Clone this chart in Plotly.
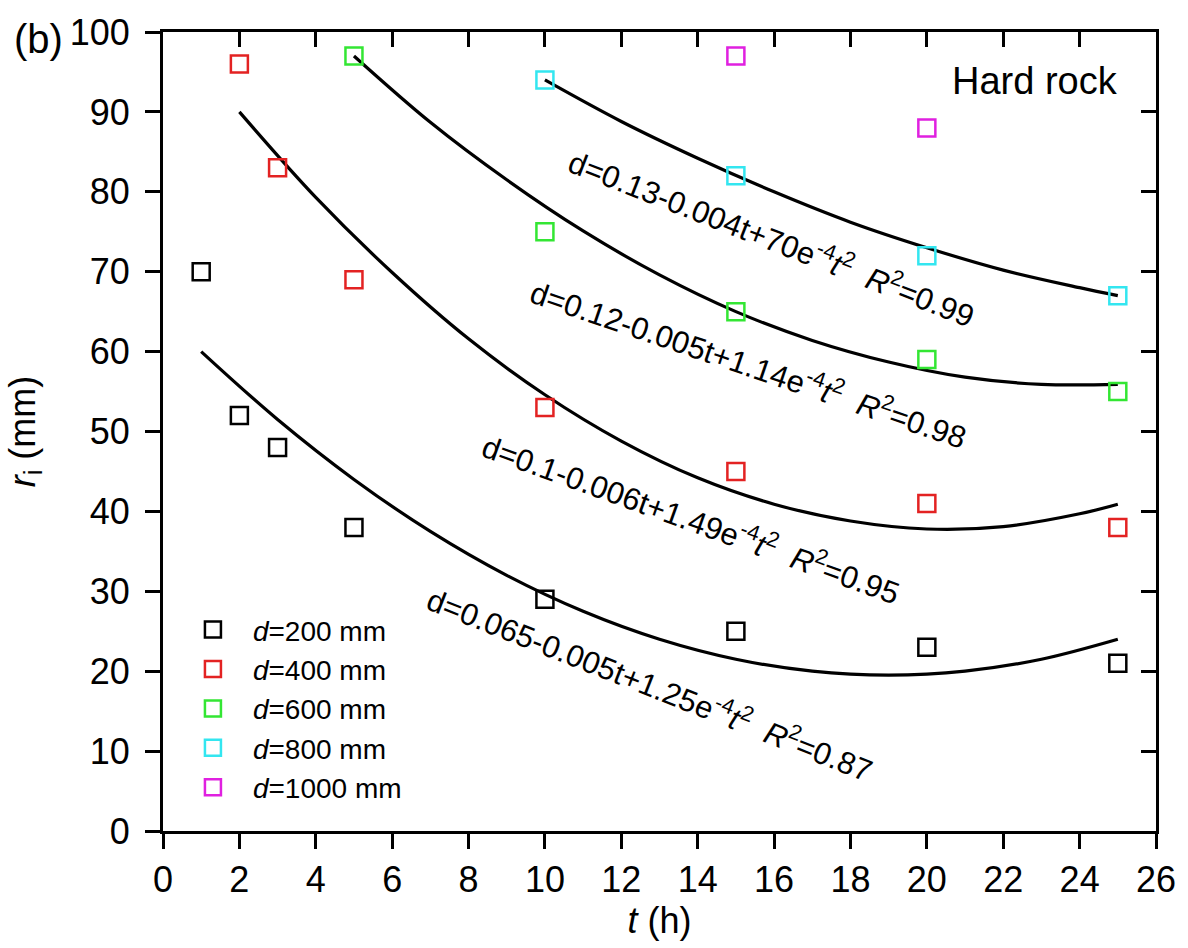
import plotly.graph_objects as go

# ---------------- data ----------------
t200 = [1, 2, 3, 5, 10, 15, 20, 25]
r200 = [70, 52, 48, 38, 29, 25, 23, 21]
t400 = [2, 3, 5, 10, 15, 20, 25]
r400 = [96, 83, 69, 53, 45, 41, 38]
t600 = [5, 10, 15, 20, 25]
r600 = [97, 75, 65, 59, 55]
t800 = [10, 15, 20, 25]
r800 = [94, 82, 72, 67]
t1000 = [15, 20]
r1000 = [97, 88]

# fitted curves
fit200_t = [1, 3, 5, 7, 9, 11, 13, 15, 17, 19, 21, 23, 25]
fit200_r = [60.0, 51.5, 44.0, 37.5, 32.0, 27.5, 24.0, 21.5, 20.0, 19.5, 20.0, 21.5, 24.0]
fit400_t = [2, 4, 6, 8, 10, 12, 14, 16, 18, 20, 22, 24, 25]
fit400_r = [90.0, 79.3, 69.9, 61.6, 54.6, 48.8, 44.2, 40.9, 38.8, 37.8, 38.1, 39.7, 40.9]
fit600_t = [5, 7, 9, 11, 13, 15, 17, 19, 21, 23, 25]
fit600_r = [97.0, 88.7, 81.5, 75.1, 69.6, 65.0, 61.4, 58.7, 56.8, 55.9, 55.9]
fit800_t = [10, 12, 14, 16, 18, 20, 22, 24, 25]
fit800_r = [94.0, 88.8, 84.2, 80.0, 76.2, 73.0, 70.2, 68.0, 67.0]

series_names = ["<i>d</i>=200 mm", "<i>d</i>=400 mm", "<i>d</i>=600 mm",
                "<i>d</i>=800 mm", "<i>d</i>=1000 mm"]
series_colors = ["#000000", "#e32222", "#33e633", "#33e6f0", "#e020e0"]

fit_labels = [
    "d=0.13-0.004t+70e<sup>-4</sup><i>t</i><sup>2</sup>&nbsp;&nbsp;<i>R</i><sup>2</sup>=0.99",
    "d=0.12-0.005t+1.14e<sup>-4</sup><i>t</i><sup>2</sup>&nbsp;&nbsp;<i>R</i><sup>2</sup>=0.98",
    "d=0.1-0.006t+1.49e<sup>-4</sup><i>t</i><sup>2</sup>&nbsp;&nbsp;<i>R</i><sup>2</sup>=0.95",
    "d=0.065-0.005t+1.25e<sup>-4</sup><i>t</i><sup>2</sup>&nbsp;&nbsp;<i>R</i><sup>2</sup>=0.87",
]

FONT = "Arial, Liberation Sans, sans-serif"

fig = go.Figure()

# fit curves
for ft, fr in [(fit200_t, fit200_r), (fit400_t, fit400_r),
               (fit600_t, fit600_r), (fit800_t, fit800_r)]:
    fig.add_trace(go.Scatter(x=ft, y=fr, mode="lines",
                             line=dict(color="black", width=3.2, shape="spline"),
                             showlegend=False, hoverinfo="skip"))

# data points
for tx, ry, name, col in zip([t200, t400, t600, t800, t1000],
                             [r200, r400, r600, r800, r1000],
                             series_names, series_colors):
    fig.add_trace(go.Scatter(x=tx, y=ry, mode="markers", name=name,
                             marker=dict(symbol="square-open", size=17,
                                         color=col, line=dict(width=2.5, color=col))))

# dummy trace for mirrored inside-tick axes
fig.add_trace(go.Scatter(x=[None], y=[None], xaxis="x2", yaxis="y2",
                         showlegend=False, hoverinfo="skip"))

axis_common = dict(showgrid=False, zeroline=False, showline=True,
                   linecolor="black", linewidth=3, tickcolor="black",
                   tickwidth=3, ticklen=15)

fig.update_layout(
    width=1188, height=948,
    margin=dict(l=163, r=30, t=29, b=117),
    paper_bgcolor="white", plot_bgcolor="white",
    font=dict(family=FONT, color="black", size=36),
    xaxis=dict(range=[0, 26], dtick=2, tick0=0, ticks="outside",
               tickfont=dict(size=36), ticklabelstandoff=0,
               title=dict(text="<i>t</i> (h)", font=dict(size=36), standoff=8),
               **axis_common),
    yaxis=dict(range=[0, 100], dtick=10, tick0=0, ticks="outside",
               tickfont=dict(size=36), ticklabelstandoff=8,
               title=dict(text="<i>r</i><sub>i</sub> (mm)", font=dict(size=36), standoff=24),
               **axis_common),
    xaxis2=dict(range=[0, 26], dtick=2, tick0=0, ticks="inside", overlaying="x",
                side="top", showticklabels=False, **axis_common),
    yaxis2=dict(range=[0, 100], dtick=10, tick0=0, ticks="inside", overlaying="y",
                side="right", showticklabels=False, **axis_common),
    legend=dict(x=0.01, y=0.283, xanchor="left", yanchor="top",
                bgcolor="rgba(0,0,0,0)", font=dict(size=28),
                itemwidth=70, tracegroupgap=0),
    showlegend=True,
)

# equation labels (rotated)
label_pos = [(773, 235, 21.3), (750, 361, 18.8), (693, 517, 19.8), (651, 682, 21.5)]
for txt, (px, py, ang) in zip(fit_labels, label_pos):
    fig.add_annotation(text=txt, xref="paper", yref="paper",
                       x=(px - 163) / 995, y=(831 - py) / 802,
                       xanchor="center", yanchor="middle", showarrow=False,
                       textangle=ang, font=dict(size=31, family=FONT))

fig.add_annotation(text="Hard rock", xref="paper", yref="paper",
                   x=(1037 - 163) / 995, y=(831 - 78) / 802,
                   xanchor="center", yanchor="middle", showarrow=False,
                   font=dict(size=38, family=FONT))
fig.add_annotation(text="(b)", xref="paper", yref="paper",
                   x=(38 - 163) / 995, y=(831 - 36) / 802,
                   xanchor="center", yanchor="middle", showarrow=False,
                   font=dict(size=40, family=FONT))

fig.write_html("out.html")
